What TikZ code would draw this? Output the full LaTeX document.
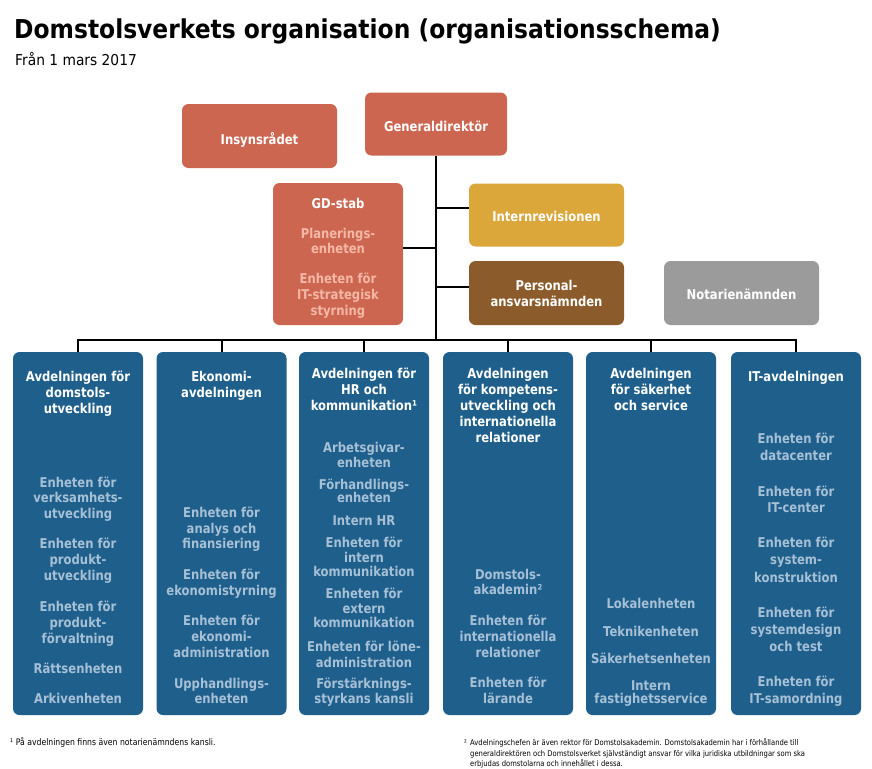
\documentclass[tikz,border=0pt]{standalone}
\usepackage{fontspec}
\setmainfont{DejaVu Sans}[FakeStretch=0.86]
\newfontfamily\titlefont{DejaVu Sans}[FakeStretch=0.9]
\newfontfamily\subfont{DejaVu Sans}[FakeStretch=0.92]
\definecolor{salmon}{HTML}{CD6651}
\definecolor{gold}{HTML}{DBA63A}
\definecolor{brownb}{HTML}{8C5B2B}
\definecolor{greyb}{HTML}{9B9B9B}
\definecolor{blueb}{HTML}{1F5F8C}
\definecolor{lblue}{HTML}{A6C0D6}
\definecolor{lsalm}{HTML}{F3B8A5}
\tikzset{
  box/.style={rectangle, rounded corners=6.5pt, draw=none, inner sep=0pt},
  wt/.style={anchor=base, text=white, font=\bfseries\fontsize{13.5}{16}\selectfont, inner sep=0pt},
  it/.style={anchor=base, text=lblue, font=\bfseries\fontsize{13.5}{16}\selectfont, inner sep=0pt},
  st/.style={anchor=base, text=lsalm, font=\bfseries\fontsize{13.5}{16}\selectfont, inner sep=0pt},
  conn/.style={line width=2pt, draw=black},
  fn/.style={anchor=base west, inner sep=0pt, text=black, font=\fontsize{7.9}{10}\selectfont}
}
\begin{document}
\begin{tikzpicture}[x=1pt,y=-1pt]
\useasboundingbox (0,0) rectangle (872,768);
% title
\node[anchor=base west, inner sep=0pt, font=\titlefont\bfseries\fontsize{26}{30}\selectfont] (title) at (14,38) {Domstolsverkets organisation (organisationsschema)};
\node[anchor=base west, inner sep=0pt, font=\subfont\fontsize{15}{18}\selectfont] (sub) at (15,66) {Från 1 mars 2017};
% top boxes
\node[box, fill=salmon, minimum width=155pt, minimum height=64pt] (ins) at (259.5,136) {};
\node[box, fill=salmon, minimum width=142pt, minimum height=63pt] (gd) at (436,124) {};
\node[box, fill=salmon, minimum width=130pt, minimum height=142pt] (gds) at (338,254) {};
\node[box, fill=gold, minimum width=155pt, minimum height=63pt] (irev) at (546.5,215) {};
\node[box, fill=brownb, minimum width=155pt, minimum height=64pt] (pers) at (546.5,293) {};
\node[box, fill=greyb, minimum width=155pt, minimum height=64pt] (notar) at (741.5,293) {};
\node[wt] (gdt) at (436,131) {Generaldirektör};
\node[wt] (inst) at (259.5,144) {Insynsrådet};
\node[wt] (gdst) at (338,208) {GD-stab};
\node[st] (gds1) at (338,238) {Planerings-};
\node[st] (gds2) at (338,253) {enheten};
\node[st] (gds3) at (338,283) {Enheten för};
\node[st] (gds4) at (338,299) {IT-strategisk};
\node[st] (gds5) at (338,315) {styrning};
\node[wt] (irevt) at (546.5,221) {Internrevisionen};
\node[wt] (pers1) at (546.5,290) {Personal-};
\node[wt] (pers2) at (546.5,306) {ansvarsnämnden};
\node[wt] (notart) at (741.5,299) {Notarienämnden};
% columns
\foreach \n/\x in {c1/78, c2/221.5, c3/364, c4/508, c5/651, c6/796}{
  \node[box, fill=blueb, minimum width=130pt, minimum height=363pt] (\n) at (\x,533.5) {};
}
% connectors
\coordinate (busL) at (78,340);
\coordinate (busR) at (796,340);
\coordinate (tb) at (436,340);
\coordinate (bi) at (436,208);
\coordinate (bg) at (436,248);
\coordinate (bp) at (436,287);
\draw[conn] (gd.south) -- (tb);
\draw[conn] (bi) -- (irev.west |- bi);
\draw[conn] (bg) -- (gds.east |- bg);
\draw[conn] (bp) -- (pers.west |- bp);
\draw[conn, line cap=rect] (busL) -- (busR);
\foreach \n in {c1,c2,c3,c4,c5,c6}{
  \draw[conn] (\n.north |- busL) -- (\n.north);
}
% column 1
\node[wt] (c1t1) at (78,381) {Avdelningen för};
\node[wt] (c1t2) at (78,397) {domstols-};
\node[wt] (c1t3) at (78,413) {utveckling};
\node[it] (c1a) at (78,487) {Enheten för};
\node[it] (c1b) at (78,502) {verksamhets-};
\node[it] (c1c) at (78,518) {utveckling};
\node[it] (c1d) at (78,548) {Enheten för};
\node[it] (c1e) at (78,564) {produkt-};
\node[it] (c1f) at (78,580) {utveckling};
\node[it] (c1g) at (78,611) {Enheten för};
\node[it] (c1h) at (78,627) {produkt-};
\node[it] (c1i) at (78,643) {förvaltning};
\node[it] (c1j) at (78,673) {Rättsenheten};
\node[it] (c1k) at (78,703) {Arkivenheten};
% column 2
\node[wt] (c2t1) at (221.5,381) {Ekonomi-};
\node[wt] (c2t2) at (221.5,397) {avdelningen};
\node[it] (c2a) at (221.5,517) {Enheten för};
\node[it] (c2b) at (221.5,533) {analys och};
\node[it] (c2c) at (221.5,548) {finansiering};
\node[it] (c2d) at (221.5,579) {Enheten för};
\node[it] (c2e) at (221.5,595) {ekonomistyrning};
\node[it] (c2f) at (221.5,625) {Enheten för};
\node[it] (c2g) at (221.5,641) {ekonomi-};
\node[it] (c2h) at (221.5,657) {administration};
\node[it] (c2i) at (221.5,688) {Upphandlings-};
\node[it] (c2j) at (221.5,703) {enheten};
% column 3
\node[wt] (c3t1) at (364,378) {Avdelningen för};
\node[wt] (c3t2) at (364,394) {HR och};
\node[wt] (c3t3) at (364,410) {kommunikation¹};
\node[it] (c3a) at (364,452) {Arbetsgivar-};
\node[it] (c3b) at (364,467) {enheten};
\node[it] (c3c) at (364,489) {Förhandlings-};
\node[it] (c3d) at (364,502) {enheten};
\node[it] (c3e) at (364,525) {Intern HR};
\node[it] (c3f) at (364,547) {Enheten för};
\node[it] (c3g) at (364,562) {intern};
\node[it] (c3h) at (364,576) {kommunikation};
\node[it] (c3i) at (364,598) {Enheten för};
\node[it] (c3j) at (364,613) {extern};
\node[it] (c3k) at (364,627) {kommunikation};
\node[it] (c3l) at (364,651) {Enheten för löne-};
\node[it] (c3m) at (364,667) {administration};
\node[it] (c3n) at (364,688) {Förstärknings-};
\node[it] (c3o) at (364,703) {styrkans kansli};
% column 4
\node[wt] (c4t1) at (508,378) {Avdelningen};
\node[wt] (c4t2) at (508,394) {för kompetens-};
\node[wt] (c4t3) at (508,410) {utveckling och};
\node[wt] (c4t4) at (508,426) {internationella};
\node[wt] (c4t5) at (508,442) {relationer};
\node[it] (c4a) at (508,579) {Domstols-};
\node[it] (c4b) at (508,594) {akademin²};
\node[it] (c4c) at (508,625) {Enheten för};
\node[it] (c4d) at (508,641) {internationella};
\node[it] (c4e) at (508,657) {relationer};
\node[it] (c4f) at (508,687) {Enheten för};
\node[it] (c4g) at (508,703) {lärande};
% column 5
\node[wt] (c5t1) at (651,378) {Avdelningen};
\node[wt] (c5t2) at (651,394) {för säkerhet};
\node[wt] (c5t3) at (651,410) {och service};
\node[it] (c5a) at (651,608) {Lokalenheten};
\node[it] (c5b) at (651,636) {Teknikenheten};
\node[it] (c5c) at (651,663) {Säkerhetsenheten};
\node[it] (c5d) at (651,690) {Intern};
\node[it] (c5e) at (651,703) {fastighetsservice};
% column 6
\node[wt] (c6t1) at (796,381) {IT-avdelningen};
\node[it] (c6a) at (796,443) {Enheten för};
\node[it] (c6b) at (796,460) {datacenter};
\node[it] (c6c) at (796,496) {Enheten för};
\node[it] (c6d) at (796,512) {IT-center};
\node[it] (c6e) at (796,547) {Enheten för};
\node[it] (c6f) at (796,564) {system-};
\node[it] (c6g) at (796,582) {konstruktion};
\node[it] (c6h) at (796,617) {Enheten för};
\node[it] (c6i) at (796,634) {systemdesign};
\node[it] (c6j) at (796,651) {och test};
\node[it] (c6k) at (796,686) {Enheten för};
\node[it] (c6l) at (796,703) {IT-samordning};
% footnotes
\node[fn, font=\fontsize{9}{10}\selectfont] (fn1) at (10,745) {¹ På avdelningen finns även notarienämndens kansli.};
\node[fn] (fn2s) at (464,745) {²};
\node[fn] (fn2a) at (470,745) {Avdelningschefen är även rektor för Domstolsakademin. Domstolsakademin har i förhållande till};
\node[fn] (fn2b) at (470,756) {generaldirektören och Domstolsverket självständigt ansvar för vilka juridiska utbildningar som ska};
\node[fn] (fn2c) at (470,766) {erbjudas domstolarna och innehållet i dessa.};
\end{tikzpicture}
\end{document}
